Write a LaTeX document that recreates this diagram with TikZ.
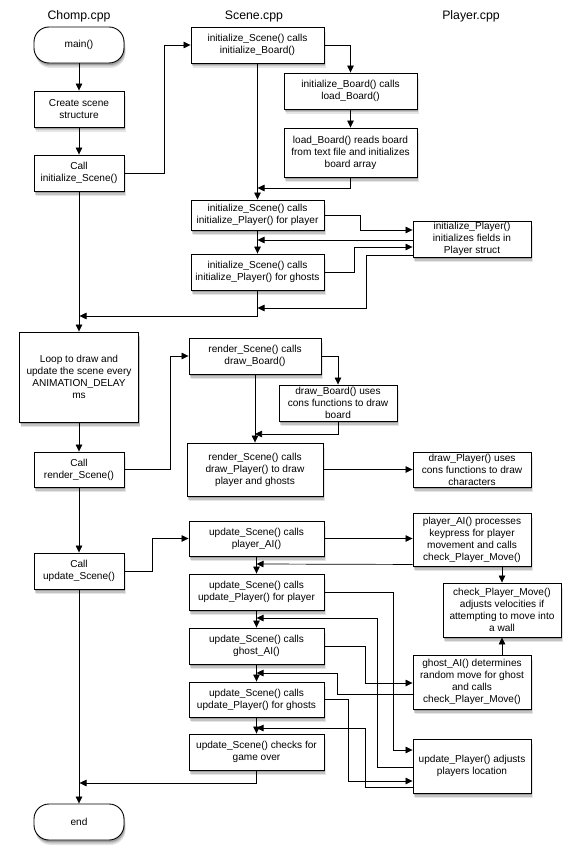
\documentclass[tikz,border=0pt]{standalone}
\usepackage{fontspec}
\setmainfont{Liberation Sans}
\usetikzlibrary{arrows.meta,shadows,calc}
\begin{document}
\begin{tikzpicture}[x=1pt,y=-1pt,
  box/.style={draw, line width=0.9pt, fill=white, align=center, inner sep=1pt,
    font=\fontsize{10.1}{12}\selectfont,
    drop shadow={shadow xshift=1.5pt, shadow yshift=-5pt, opacity=0.10, fill=black},
    drop shadow={shadow xshift=1.2pt, shadow yshift=-3.5pt, opacity=0.14, fill=black},
    drop shadow={shadow xshift=0.8pt, shadow yshift=-2pt, opacity=0.18, fill=black}},
  term/.style={box, rounded corners=15pt},
  sz/.style 2 args={minimum width=#1pt, minimum height=#2pt},
  arr/.style={line width=0.7pt, -{Triangle[length=7pt,width=6.5pt]}},
  hdr/.style={font=\fontsize{12.3}{14}\selectfont}]
\useasboundingbox (0,0) rectangle (580,864);
\fill[white] (0,0) rectangle (580,864);
% headers
\node[hdr] (h1) at (79,16) {Chomp.cpp};
\node[hdr] (h2) at (254,16) {Scene.cpp};
\node[hdr] (h3) at (471,16) {Player.cpp};
% Chomp column
\node[term, sz={90}{36}] (main) at (79,45) {main()};
\node[box, sz={90}{36}] (create) at (79,109) {Create scene\\structure};
\node[box, sz={90}{36}] (callIS) at (79,173) {Call\\initialize\_Scene()};
\node[box, sz={119}{90}] (loop) at (79,377) {Loop to draw and\\update the scene every\\ANIMATION\_DELAY\\ms};
\node[box, sz={90}{35}] (callRS) at (79,469.5) {Call\\render\_Scene()};
\node[box, sz={90}{36}] (callUS) at (79,571) {Call\\update\_Scene()};
\node[term, sz={90}{36}] (end) at (79,822) {end};
% Scene column
\node[box, sz={133}{36}] (iSiB) at (257.5,45) {initialize\_Scene() calls\\initialize\_Board()};
\node[box, sz={133}{30}] (iSiPp) at (257.5,215) {initialize\_Scene() calls\\initialize\_Player() for player};
\node[box, sz={133}{36}] (iSiPg) at (257.5,272) {initialize\_Scene() calls\\initialize\_Player() for ghosts};
\node[box, sz={132}{36}] (rSdB) at (255,356) {render\_Scene() calls\\draw\_Board()};
\node[box, sz={136}{53}] (rSdP) at (255,469.5) {render\_Scene() calls\\draw\_Player() to draw\\player and ghosts};
\node[box, sz={135}{35}] (uSpAI) at (256.5,538.5) {update\_Scene() calls\\player\_AI()};
\node[box, sz={135}{36}] (uSuPp) at (256.5,592) {update\_Scene() calls\\update\_Player() for player};
\node[box, sz={135}{36}] (uSgAI) at (256.5,646) {update\_Scene() calls\\ghost\_AI()};
\node[box, sz={135}{35}] (uSuPg) at (256.5,699.5) {update\_Scene() calls\\update\_Player() for ghosts};
\node[box, sz={135}{36}] (uSgo) at (256.5,752) {update\_Scene() checks for\\game over};
% sub column
\node[box, sz={133}{36}] (iBlB) at (350.5,91) {initialize\_Board() calls\\load\_Board()};
\node[box, sz={133}{49}] (lB) at (350.5,152.5) {load\_Board() reads board\\from text file and initializes\\board array};
\node[box, sz={118}{36}] (dB) at (338,403) {draw\_Board() uses\\cons functions to draw\\board};
% Player column
\node[box, sz={118}{36}] (iP) at (472,239) {initialize\_Player()\\initializes fields in\\Player struct};
\node[box, sz={118}{35}] (dP) at (472,469.5) {draw\_Player() uses\\cons functions to draw\\characters};
\node[box, sz={118}{53}] (pAI) at (472,539.5) {player\_AI() processes\\keypress for player\\movement and calls\\check\_Player\_Move()};
\node[box, sz={118}{54}] (check) at (502,610) {check\_Player\_Move()\\adjusts velocities if\\attempting to move into\\a wall};
\node[box, sz={118}{54}] (gAI) at (472,682) {ghost\_AI() determines\\random move for ghost\\and calls\\check\_Player\_Move()};
\node[box, sz={118}{54}] (uP) at (472,766) {update\_Player() adjusts\\players location};
% junction coordinates
\coordinate (j1) at (257.5,188);
\coordinate (j2) at (257.5,240);
\coordinate (j3) at (257.5,308);
\coordinate (j4) at (79.5,316);
\coordinate (j5) at (255,434);
\coordinate (j6) at (256.5,564);
\coordinate (j7) at (256.5,618);
\coordinate (j8) at (256.5,673);
\coordinate (j9) at (256.5,728);
\coordinate (j10) at (79.5,783);
% connectors
\draw[arr] (main) -- (create);
\draw[arr] (create) -- (callIS);
\draw[arr] (callIS.east) -- (164,173) |- (iSiB.west);
\draw[arr] (iSiB.east) -| (iBlB.north);
\draw[arr] (iBlB) -- (lB);
\draw[arr] (lB.south) |- (j1);
\draw[arr] (iSiB) -- (iSiPp);
\draw[arr] (iSiPp.east) -- (360,215) |- ($(iP.west)+(0,-9)$);
\draw[arr] ($(iP.west)+(0,1)$) -- (j2);
\draw[arr] (iSiPp) -- (iSiPg);
\draw[arr] (iSiPg.east) -- (354,272) |- ($(iP.west)+(0,8)$);
\draw[arr] ($(iP.west)+(0,16)$) -| (366,308) -- (j3);
\draw[arr] (iSiPg.south) |- (j4);
\draw[arr] (callIS) -- (loop);
\draw[arr] (loop) -- (callRS);
\draw[arr] (callRS.east) -- (170,469.5) |- (rSdB.west);
\draw[arr] (rSdB.east) -| (dB.north);
\draw[arr] (rSdB) -- (rSdP);
\draw[arr] (dB.south) |- (j5);
\draw[arr] (rSdP) -- (dP);
\draw[arr] (callRS) -- (callUS);
\draw[arr] (callUS.east) -- (152,571) |- (uSpAI.west);
\draw[arr] (uSpAI.east) -- (uSpAI.east -| pAI.west);
\draw[arr] ($(pAI.south west)+(0,-2)$) -- (j6);
\draw[arr] (uSpAI) -- (uSuPp);
\draw[arr] (pAI.south -| check.north) -- (check.north);
\draw[arr] (uSuPp.east) -- (393,592) |- ($(uP.west)+(0,-16)$);
\draw[arr] ($(uP.west)+(0,1)$) -| (377,618) -- (j7);
\draw[arr] (uSuPp) -- (uSgAI);
\draw[arr] (uSgAI.east) -- (365,646) |- ($(gAI.west)+(0,1)$);
\draw[arr] ($(gAI.west)+(0,12)$) -| (337,673) -- (j8);
\draw[arr] (gAI.north -| check.south) -- (check.south);
\draw[arr] (uSgAI) -- (uSuPg);
\draw[arr] (uSuPg.east) -- (348,699.5) |- ($(uP.west)+(0,15)$);
\draw[arr] ($(uP.west)+(0,21)$) -| (365,728) -- (j9);
\draw[arr] (uSuPg) -- (uSgo);
\draw[arr] (uSgo.south) |- (j10);
\draw[arr] (callUS) -- (end);
\end{tikzpicture}
\end{document}
